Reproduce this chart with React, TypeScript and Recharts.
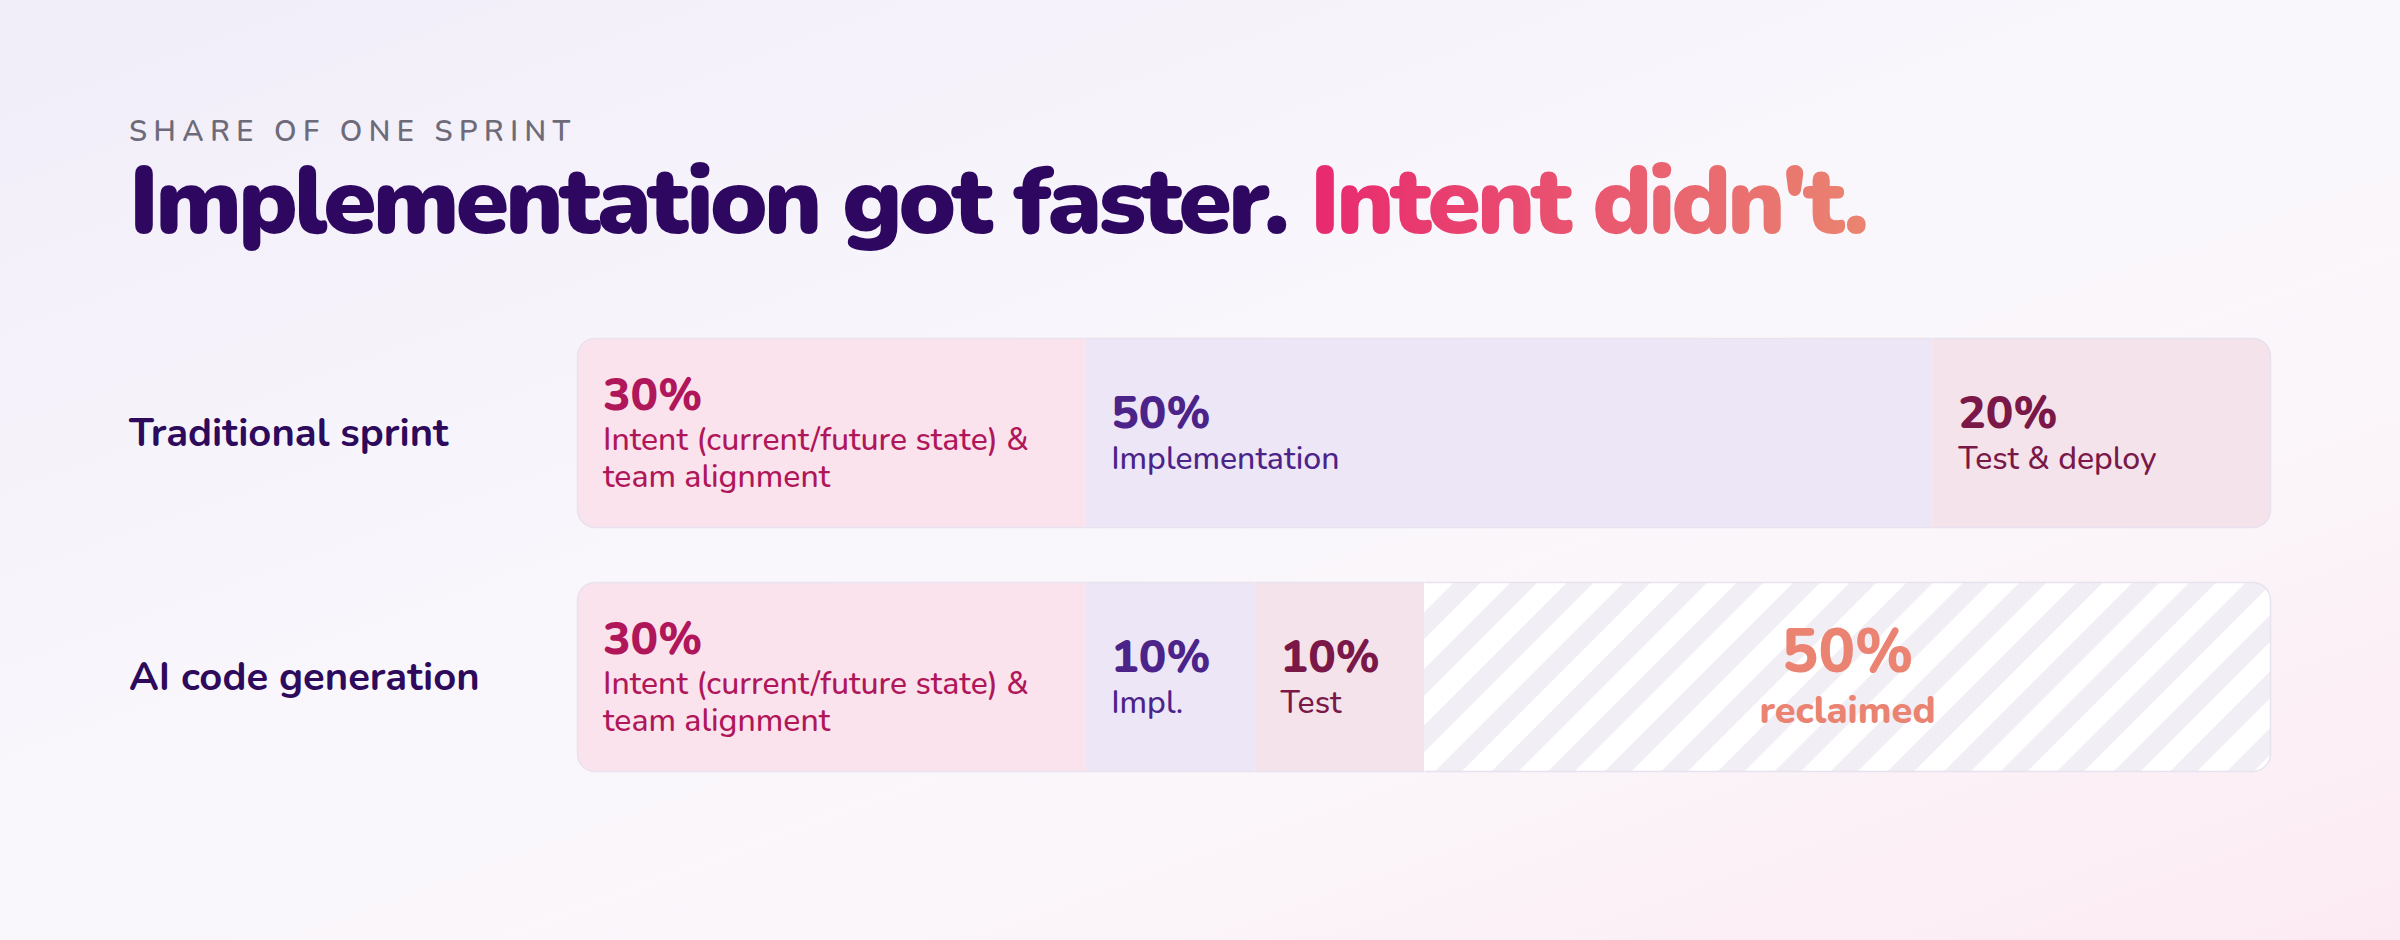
import { BarChart, Bar, XAxis, YAxis, LabelList } from 'recharts'

const rows = ['Traditional sprint', 'AI code generation']
const intentShare = [30, 30]
const implShare = [50, 10]
const testShare = [20, 10]
const reclaimedShare = [0, 50]

const intentText = [
  ['Intent (current/future state) &', 'team alignment'],
  ['Intent (current/future state) &', 'team alignment'],
]
const implText = ['Implementation', 'Impl.']
const testText = ['Test & deploy', 'Test']
const reclaimedText = ['', 'reclaimed']

const FONT = 'Nunito, Lato, "Noto Sans", sans-serif'
const LABEL_X = 129
const RADIUS = 18

const data = rows.map((row, i) => ({
  row,
  intent: intentShare[i],
  impl: implShare[i],
  test: testShare[i],
  reclaimed: reclaimedShare[i],
}))

const order = ['intent', 'impl', 'test', 'reclaimed']

// which side of the stacked bar gets rounded
const corners = (key: string, row: any) => {
  const left = key === 'intent'
  const nonZero = order.filter((k) => row[k] > 0)
  const right = nonZero[nonZero.length - 1] === key
  return [left ? RADIUS : 0, right ? RADIUS : 0]
}

const fillPath = (x: number, y: number, w: number, h: number, rl: number, rr: number) =>
  `M${x + rl},${y} H${x + w - rr} ` +
  (rr ? `A${rr},${rr} 0 0 1 ${x + w},${y + rr} V${y + h - rr} A${rr},${rr} 0 0 1 ${x + w - rr},${y + h} ` : `V${y + h} `) +
  `H${x + rl} ` +
  (rl ? `A${rl},${rl} 0 0 1 ${x},${y + h - rl} V${y + rl} A${rl},${rl} 0 0 1 ${x + rl},${y} ` : `H${x} V${y} `) +
  'Z'

const edgePath = (x: number, y: number, w: number, h: number, rl: number, rr: number) => {
  let d = rl
    ? `M${x + rl},${y + h} A${rl},${rl} 0 0 1 ${x},${y + h - rl} V${y + rl} A${rl},${rl} 0 0 1 ${x + rl},${y} `
    : `M${x},${y} `
  d += `H${x + w - rr} `
  if (rr) {
    d += `A${rr},${rr} 0 0 1 ${x + w},${y + rr} V${y + h - rr} A${rr},${rr} 0 0 1 ${x + w - rr},${y + h} H${x + rl}`
  } else {
    d += `M${x + w},${y + h} H${x + rl}`
  }
  return d
}

const makeShape = (key: string, fill: string) => (props: any) => {
  const { x, y, width, height, payload } = props
  if (!width || width <= 0) return <g />
  const [rl, rr] = corners(key, payload)
  return (
    <g>
      {key === 'reclaimed' && (
        <defs>
          <pattern id="stripes" patternUnits="userSpaceOnUse" width={40} height={40} patternTransform="rotate(45)">
            <rect x={0} y={0} width={40} height={40} fill="#ffffff" />
            <rect x={0} y={0} width={19} height={40} fill="#f1eef6" />
          </pattern>
        </defs>
      )}
      <path d={fillPath(x, y, width, height, rl, rr)} fill={fill} />
      <path d={edgePath(x + 0.5, y + 0.5, width - 1, height - 1, rl, rr)} fill="none" stroke="#e8e2ee" strokeWidth={1.5} />
    </g>
  )
}

const segmentLabel = (title: (i: number) => string[], color: string, weight: number) => (props: any) => {
  const { x, y, width, height, index, value } = props
  if (!value) return null
  const lines = title(index)
  const cy = y + height / 2
  const pad = 26
  if (lines.length === 2) {
    return (
      <g fontFamily={FONT} fill={color}>
        <text x={x + pad} y={cy - 23} fontSize={46} fontWeight={800}>{`${value}%`}</text>
        <text x={x + pad} y={cy + 17} fontSize={32} fontWeight={weight}>{lines[0]}</text>
        <text x={x + pad} y={cy + 54} fontSize={32} fontWeight={weight}>{lines[1]}</text>
      </g>
    )
  }
  return (
    <g fontFamily={FONT} fill={color}>
      <text x={x + pad} y={cy - 5} fontSize={46} fontWeight={800}>{`${value}%`}</text>
      <text x={x + pad} y={cy + 36} fontSize={32} fontWeight={weight}>{lines[0]}</text>
    </g>
  )
}

const reclaimedLabel = (props: any) => {
  const { x, y, width, height, index, value } = props
  if (!value) return null
  const cx = x + width / 2
  const cy = y + height / 2
  return (
    <g fontFamily={FONT} fill="#ea8371" textAnchor="middle">
      <text x={cx} y={cy - 5} fontSize={61} fontWeight={800}>{`${value}%`}</text>
      <text x={cx} y={cy + 46} fontSize={38} fontWeight={800}>{reclaimedText[index]}</text>
    </g>
  )
}

const RowTick = (props: any) => {
  const { y, payload } = props
  return (
    <text x={LABEL_X} y={y} dy={13} fontFamily={FONT} fontSize={40} fontWeight={700} fill="#2d0a5c">
      {payload.value}
    </text>
  )
}

export default function App() {
  return (
    <div
      style={{
        position: 'relative',
        width: 2400,
        height: 940,
        overflow: 'hidden',
        background: 'linear-gradient(160deg, #f1edf9 0%, #f9f7fc 45%, #fbf6fa 70%, #fceaf2 100%)',
      }}
    >
      <style>{'body{margin:0}'}</style>
      <svg width={2400} height={270} style={{ position: 'absolute', left: 0, top: 0 }}>
        <defs>
          <linearGradient id="titleGrad" gradientUnits="userSpaceOnUse" x1={1309} y1={0} x2={1863} y2={0}>
            <stop offset="0%" stopColor="#e8286f" />
            <stop offset="100%" stopColor="#ea8470" />
          </linearGradient>
        </defs>
        <text x={129} y={141} fontFamily={FONT} fontSize={29} fontWeight={600} letterSpacing={6.5} fill="#6d6b79">
          SHARE OF ONE SPRINT
        </text>
        <text x={129} y={233} fontFamily={FONT} fontSize={96} fontWeight={900} letterSpacing={-3.7} fill="#2e0760">
          <tspan>Implementation got faster. </tspan>
          <tspan fill="url(#titleGrad)">Intent didn't.</tspan>
        </text>
      </svg>
      <div style={{ position: 'absolute', left: 0, top: 0 }}>
        <BarChart
          width={2400}
          height={940}
          data={data}
          layout="vertical"
          margin={{ top: 311, right: 129, bottom: 141, left: 0 }}
          barSize={190}
        >
          <XAxis type="number" domain={[0, 100]} hide />
          <YAxis type="category" dataKey="row" width={577} axisLine={false} tickLine={false} tick={<RowTick />} />
          <Bar dataKey="intent" stackId="s" isAnimationActive={false} shape={makeShape('intent', '#fbe3ed')}>
            <LabelList dataKey="intent" content={segmentLabel((i) => intentText[i], '#b0175a', 500)} />
          </Bar>
          <Bar dataKey="impl" stackId="s" isAnimationActive={false} shape={makeShape('impl', '#ede6f6')}>
            <LabelList dataKey="impl" content={segmentLabel((i) => [implText[i]], '#4b2389', 500)} />
          </Bar>
          <Bar dataKey="test" stackId="s" isAnimationActive={false} shape={makeShape('test', '#f5e3ec')}>
            <LabelList dataKey="test" content={segmentLabel((i) => [testText[i]], '#7a1848', 500)} />
          </Bar>
          <Bar dataKey="reclaimed" stackId="s" isAnimationActive={false} shape={makeShape('reclaimed', 'url(#stripes)')}>
            <LabelList dataKey="reclaimed" content={reclaimedLabel} />
          </Bar>
        </BarChart>
      </div>
    </div>
  )
}
